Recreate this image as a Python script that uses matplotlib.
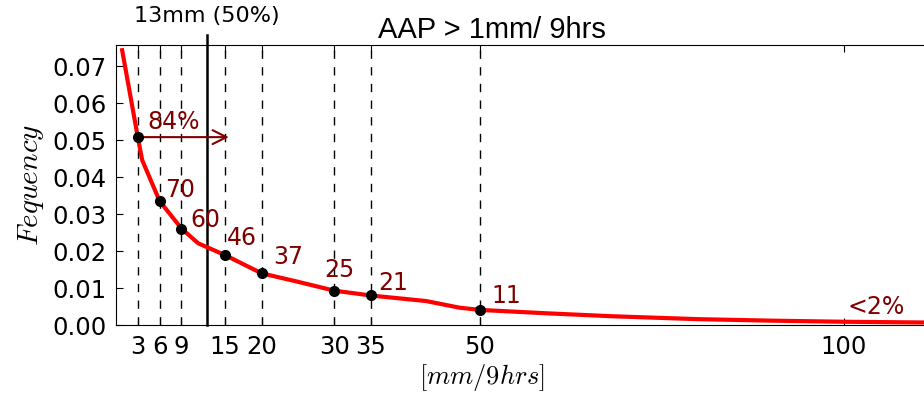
import matplotlib
matplotlib.use('Agg')
import matplotlib.pyplot as plt

plt.rcParams['mathtext.fontset'] = 'cm'

# curve
rain = [0.85, 3, 3.6, 6, 9, 11.3, 15, 20, 25, 30, 35, 42.6, 47.2, 50, 59, 68, 80, 90, 100, 111]
freq = [0.0743, 0.0508, 0.0446, 0.0335, 0.0261, 0.0221, 0.0189, 0.0140, 0.0117, 0.0093,
        0.0080, 0.0065, 0.0047, 0.0041, 0.0032, 0.0024, 0.0016, 0.0012, 0.0009, 0.0007]

marks = [3, 6, 9, 15, 20, 30, 35, 50]
mark_freq = [0.0508, 0.0335, 0.0261, 0.0189, 0.0140, 0.0093, 0.0080, 0.0041]
mark_labels = ['84%', '70', '60', '46', '37', '25', '21', '11']
label_x = [4.3, 6.8, 10.2, 15.3, 21.6, 28.6, 36.0, 51.6]
label_y = [0.0530, 0.0346, 0.0266, 0.0216, 0.0165, 0.0131, 0.0096, 0.0059]

xticks = [3, 6, 9, 15, 20, 30, 35, 50, 100]
yticks = [0.00, 0.01, 0.02, 0.03, 0.04, 0.05, 0.06, 0.07]
median = 12.5
dark = '#800000'

fig = plt.figure(figsize=(9.24, 3.95), dpi=100)
ax = fig.add_axes([0.1255, 0.177, 0.8745, 0.710])

for m in marks:
    ax.axvline(m, color='k', lw=1, dashes=(6, 6), zorder=1)
ax.plot([median, median], [0, 0.0783], color='k', lw=1.8, clip_on=False, zorder=2)

ax.plot(rain, freq, color='red', lw=3, zorder=3)
ax.plot(marks, mark_freq, 'o', color='k', ms=7, zorder=4)

for t, lx, ly in zip(mark_labels, label_x, label_y):
    ax.text(lx, ly, t, color=dark, fontsize=17)
ax.text(100.5, 0.0030, '<2%', color=dark, fontsize=17)

ax.annotate('', xy=(15.5, mark_freq[0]), xytext=(marks[0], mark_freq[0]),
            arrowprops=dict(arrowstyle='->', color=dark, lw=1.5,
                            mutation_scale=25, shrinkA=0, shrinkB=0))

ax.text(median, 0.0835, '13mm (50%)', ha='center', va='center', fontsize=16)
ax.text(0.465, 1.022, 'AAP > 1mm/ 9hrs', transform=ax.transAxes, ha='center',
        va='baseline', fontsize=21, family='Liberation Sans')

ax.set_xlim(0, 111)
ax.set_ylim(0, 0.0758)
ax.set_xticks(xticks)
ax.set_yticks(yticks)
ax.set_yticklabels(['%.2f' % v for v in yticks])
ax.tick_params(direction='in', labelsize=17.5, top=True, right=False, length=5, pad=7)
ax.spines['right'].set_visible(False)

ax.set_ylabel('$Fequency$', fontsize=21)
ax.set_xlabel('$[mm/9hrs]$', fontsize=19)
ax.xaxis.set_label_coords(0.453, -0.13)

fig.savefig('out.png', dpi=100)
